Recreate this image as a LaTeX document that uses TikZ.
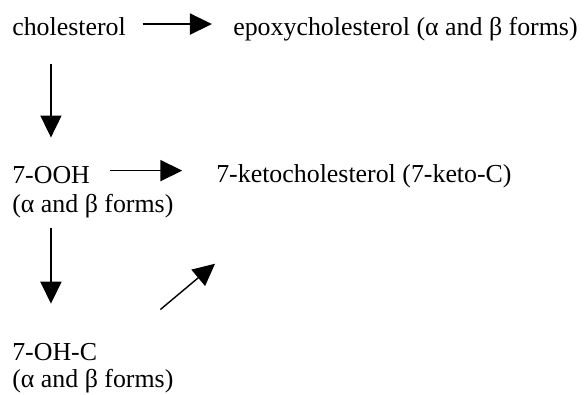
\documentclass[tikz,border=0pt]{standalone}
\usepackage{fontspec}
\setmainfont{Liberation Serif}
\usetikzlibrary{arrows.meta}

\begin{document}
\begin{tikzpicture}[x=0.025cm,y=-0.025cm,
  lbl/.style={inner sep=0pt,anchor=base west,font=\fontsize{18.4}{22}\selectfont},
  arr/.style={line width=1pt,-{Triangle[length=15.6pt,width=15pt]}}]
\useasboundingbox (0,0) rectangle (584,394);
\node[lbl] (chol) at (12,36) {cholesterol}; \node[lbl] (epoxy) at (233,36) {epoxycholesterol (α and β forms)};
\node[lbl] (ooh) at (12,183) {7-OOH}; \node[lbl] (oohf) at (12,212) {(α and β forms)};
\node[lbl] (keto) at (216,182) {7-ketocholesterol (7-keto-C)};
\node[lbl] (ohc) at (12,360) {7-OH-C}; \node[lbl] (ohcf) at (12,387) {(α and β forms)};
\draw[arr,shorten <=11.7pt,shorten >=15pt] ([yshift=2.2pt]chol.east) -- ([yshift=2.2pt]chol.east -| epoxy.west);
\draw[arr,shorten <=14pt,shorten >=24pt] ([yshift=2.8pt]ooh.east) -- ([yshift=2.8pt]ooh.east -| keto.west);
\draw[arr,shorten <=19.2pt,shorten >=20pt] ([xshift=27.7pt]chol.south west) -- ([xshift=27.7pt]chol.south west |- ooh.north);
\draw[arr,shorten <=7.4pt,shorten >=27.7pt] ([xshift=27.7pt]oohf.south west) -- ([xshift=27.7pt]oohf.south west |- ohc.north);
\draw[arr] ([xshift=44.8pt,yshift=23.5pt]ohc.north east) -- ([xshift=-0.7pt,yshift=-54pt]keto.south west);
\end{tikzpicture}
\end{document}
